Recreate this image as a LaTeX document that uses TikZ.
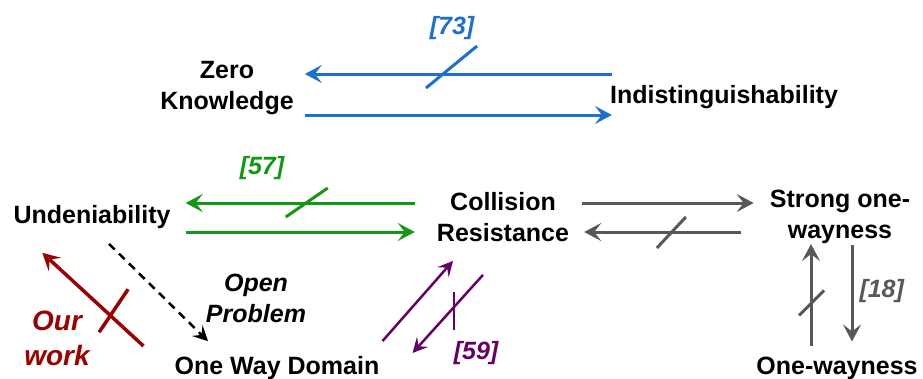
\documentclass[tikz,border=0pt]{standalone}
\usepackage{fontspec}
\setmainfont{Liberation Sans}
\usetikzlibrary{arrows.meta}

\definecolor{zkblue}{RGB}{30,112,208}
\definecolor{udgreen}{RGB}{22,150,22}
\definecolor{crgray}{RGB}{88,88,88}
\definecolor{owdpurple}{RGB}{102,0,102}
\definecolor{ourred}{RGB}{155,0,0}

\begin{document}
\begin{tikzpicture}[x=1pt, y=-1pt, >={Stealth[length=17pt, width=18pt, inset=7pt]},
  concept/.style={inner sep=0, align=center, font=\fontsize{25}{31}\selectfont\bfseries},
  cite/.style={inner sep=0, align=center, font=\fontsize{25}{31}\selectfont\bfseries\itshape},
  link/.style={->, line width=3pt},
  cut/.style={line width=3pt}]

\useasboundingbox (0,0) rectangle (923,378);

%% properties
\node [concept] (zk) at (227,88) {Zero\\Knowledge};
\node [concept] (indist) at (724,97) {Indistinguishability};
\node [concept] (undeni) at (92,217) {Undeniability};
\node [concept] (colres) at (503,217) {Collision\\Resistance};
\node [concept] (strong) at (840,217) {Strong one-\\wayness};
\node [concept] (oneway) at (837,368) {One-wayness};
\node [concept] (owd) at (277,368) {One Way Domain};

%% zero knowledge vs indistinguishability
\draw [link, zkblue] ([xshift=2pt, yshift=23pt]indist.west) -- ([xshift=11pt, yshift=14pt]zk.east)
  coordinate [pos=.55] (zkcut);
\draw [link, zkblue] ([xshift=11pt, yshift=-27pt]zk.east) -- ([xshift=2pt, yshift=-18pt]indist.west);
\draw [cut, zkblue] (zkcut) ++(-17,14) -- ++(51,-42);
\node [cite, zkblue] (ref73) at (452,28) {[73]};

%% undeniability vs collision resistance
\draw [link, udgreen] ([xshift=-22pt, yshift=14pt]colres.west) -- ([xshift=15pt, yshift=14pt]undeni.east)
  coordinate [pos=.476] (udcut);
\draw [link, udgreen] ([xshift=15pt, yshift=-15pt]undeni.east) -- ([xshift=-22pt, yshift=-15pt]colres.west);
\draw [cut, udgreen] (udcut) ++(-20,14) -- ++(42,-29);
\node [cite, udgreen] (ref57) at (262,168) {[57]};

%% collision resistance vs strong one-wayness
\draw [link, crgray] ([xshift=13pt, yshift=14pt]colres.east) -- ([xshift=-16pt, yshift=14pt]strong.west);
\draw [link, crgray] ([xshift=-29pt, yshift=-15pt]strong.west) -- ([xshift=15pt, yshift=-15pt]colres.east)
  coordinate [pos=.44] (crcut);
\draw [cut, crgray] (crcut) ++(-15,16) -- ++(29,-31);

%% strong one-wayness vs one-wayness
\coordinate (upfoot) at ([xshift=-26pt, yshift=10pt]oneway.north);
\coordinate (downtop) at ([xshift=12pt, yshift=-1pt]strong.south);
\path (downtop |- oneway.north) ++(0,-15) coordinate (downfoot);
\draw [link, crgray] (upfoot) -- (upfoot |- strong.south)
  coordinate [pos=.42] (owcut);
\draw [cut, crgray] (owcut) ++(-12,12) -- ++(25,-25);
\draw [link, crgray] (downtop) -- (downfoot)
  node [cite, right, midway, xshift=6pt, yshift=2pt] (ref18) {[18]};

%% one way domain vs collision resistance
\draw [link, owdpurple, line width=2.5pt, >={Stealth[length=15pt, width=15pt, inset=6pt]}]
  ([xshift=3pt, yshift=27pt]owd.east) -- ([xshift=-50pt, yshift=-19pt]colres.south);
\draw [link, owdpurple, line width=2.5pt, >={Stealth[length=15pt, width=15pt, inset=6pt]}]
  ([xshift=-20pt, yshift=-33pt]colres.south) -- ([xshift=33pt, yshift=15pt]owd.east)
  coordinate [pos=.41] (owdcut);
\draw [cut, owdpurple, line width=2.5pt] (owdcut) ++(0,-15) -- ++(0,38);
\node [cite, owdpurple] (ref59) at (476,353) {[59]};

%% undeniability vs one way domain
\draw [link, black, line width=2.5pt, dash pattern=on 8pt off 6pt, >={Stealth[length=15pt, width=15pt, inset=6pt]}]
  ([xshift=17pt, yshift=-15pt]undeni.south) -- ([xshift=-69pt, yshift=15pt]owd.north);
\node [cite] (open) at (256,298) {Open\\Problem};

\draw [link, ourred, line width=3.5pt] ([xshift=-31pt, yshift=22pt]owd.west) -- ([xshift=29pt, yshift=-24pt]undeni.south west)
  coordinate [pos=.33] (ourcut);
\draw [cut, ourred, line width=3.5pt] (ourcut) ++(18,-26) -- ++(-29,43);
\node [cite, ourred, font=\fontsize{28}{35}\selectfont\bfseries\itshape] (our) at (57,338) {Our\\work};

\end{tikzpicture}
\end{document}
